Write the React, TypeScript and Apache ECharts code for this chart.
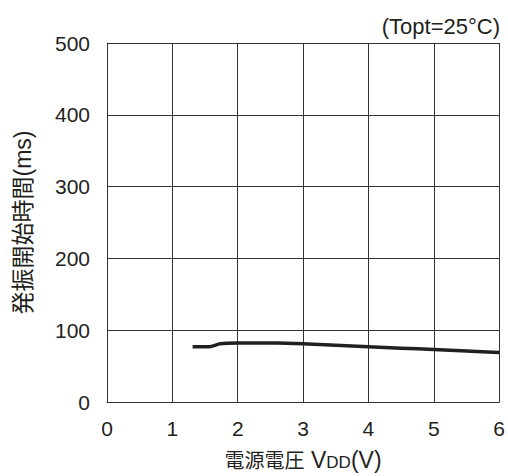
import React, { useEffect, useRef } from "react";
import * as echarts from "echarts";

// Supply voltage (V) vs oscillation start time (ms)
const vdd = [1.31, 1.57, 1.73, 2.0, 2.6, 3.0, 3.5, 4.0, 4.5, 5.0, 5.5, 6.0];
const startTime = [77, 77, 81, 82, 82, 81, 79, 77, 75, 73, 71, 69];

const xTicks = [0, 1, 2, 3, 4, 5, 6];
const yTicks = [0, 100, 200, 300, 400, 500];

const FONT = "'Liberation Sans', Arial, 'Noto Sans CJK JP', sans-serif";
const GRID_COLOR = "#333";
const TEXT_COLOR = "#231f20";

export default function App() {
  const ref = useRef<HTMLDivElement>(null);

  useEffect(() => {
    if (!ref.current) return;
    const chart = echarts.init(ref.current, null, { renderer: "svg" });
    chart.setOption({
      animation: false,
      backgroundColor: "#fff",
      grid: { left: 107, right: 8, top: 43, bottom: 71 },
      title: {
        text: "(Topt=25°C)",
        right: 3,
        top: 10,
        textStyle: { fontFamily: FONT, fontSize: 22, fontWeight: "normal", color: TEXT_COLOR },
      },
      xAxis: {
        type: "value",
        min: xTicks[0],
        max: xTicks[xTicks.length - 1],
        interval: 1,
        name: "{c|電源電圧}{a| V}{b|DD}{a|(V)}",
        nameLocation: "middle",
        nameGap: 43,
        nameTextStyle: {
          rich: {
            c: { fontFamily: FONT, fontSize: 20, color: TEXT_COLOR, lineHeight: 26, verticalAlign: "bottom" },
            a: { fontFamily: FONT, fontSize: 23, color: TEXT_COLOR, lineHeight: 26, verticalAlign: "bottom" },
            b: { fontFamily: FONT, fontSize: 17, color: TEXT_COLOR, lineHeight: 26, verticalAlign: "bottom" },
          },
        },
        axisLine: { show: true, lineStyle: { color: GRID_COLOR, width: 1 } },
        axisTick: { show: false },
        axisLabel: { fontFamily: FONT, fontSize: 21, color: TEXT_COLOR, margin: 16 },
        splitLine: { show: true, lineStyle: { color: GRID_COLOR, width: 1 } },
      },
      yAxis: {
        type: "value",
        min: yTicks[0],
        max: yTicks[yTicks.length - 1],
        interval: 100,
        name: "発振開始時間(ms)",
        nameLocation: "middle",
        nameGap: 73,
        nameRotate: 90,
        nameTextStyle: { fontFamily: FONT, fontSize: 23, color: TEXT_COLOR },
        axisLine: { show: true, lineStyle: { color: GRID_COLOR, width: 1 } },
        axisTick: { show: false },
        axisLabel: { fontFamily: FONT, fontSize: 21, color: TEXT_COLOR, margin: 17 },
        splitLine: { show: true, lineStyle: { color: GRID_COLOR, width: 1 } },
      },
      series: [
        {
          type: "line",
          data: vdd.map((v, i) => [v, startTime[i]]),
          showSymbol: false,
          smooth: 0.2,
          lineStyle: { color: TEXT_COLOR, width: 3.5 },
        },
      ],
    });
    return () => chart.dispose();
  }, []);

  return <div ref={ref} style={{ width: 508, height: 476, position: "absolute", left: 0, top: 0 }} />;
}
